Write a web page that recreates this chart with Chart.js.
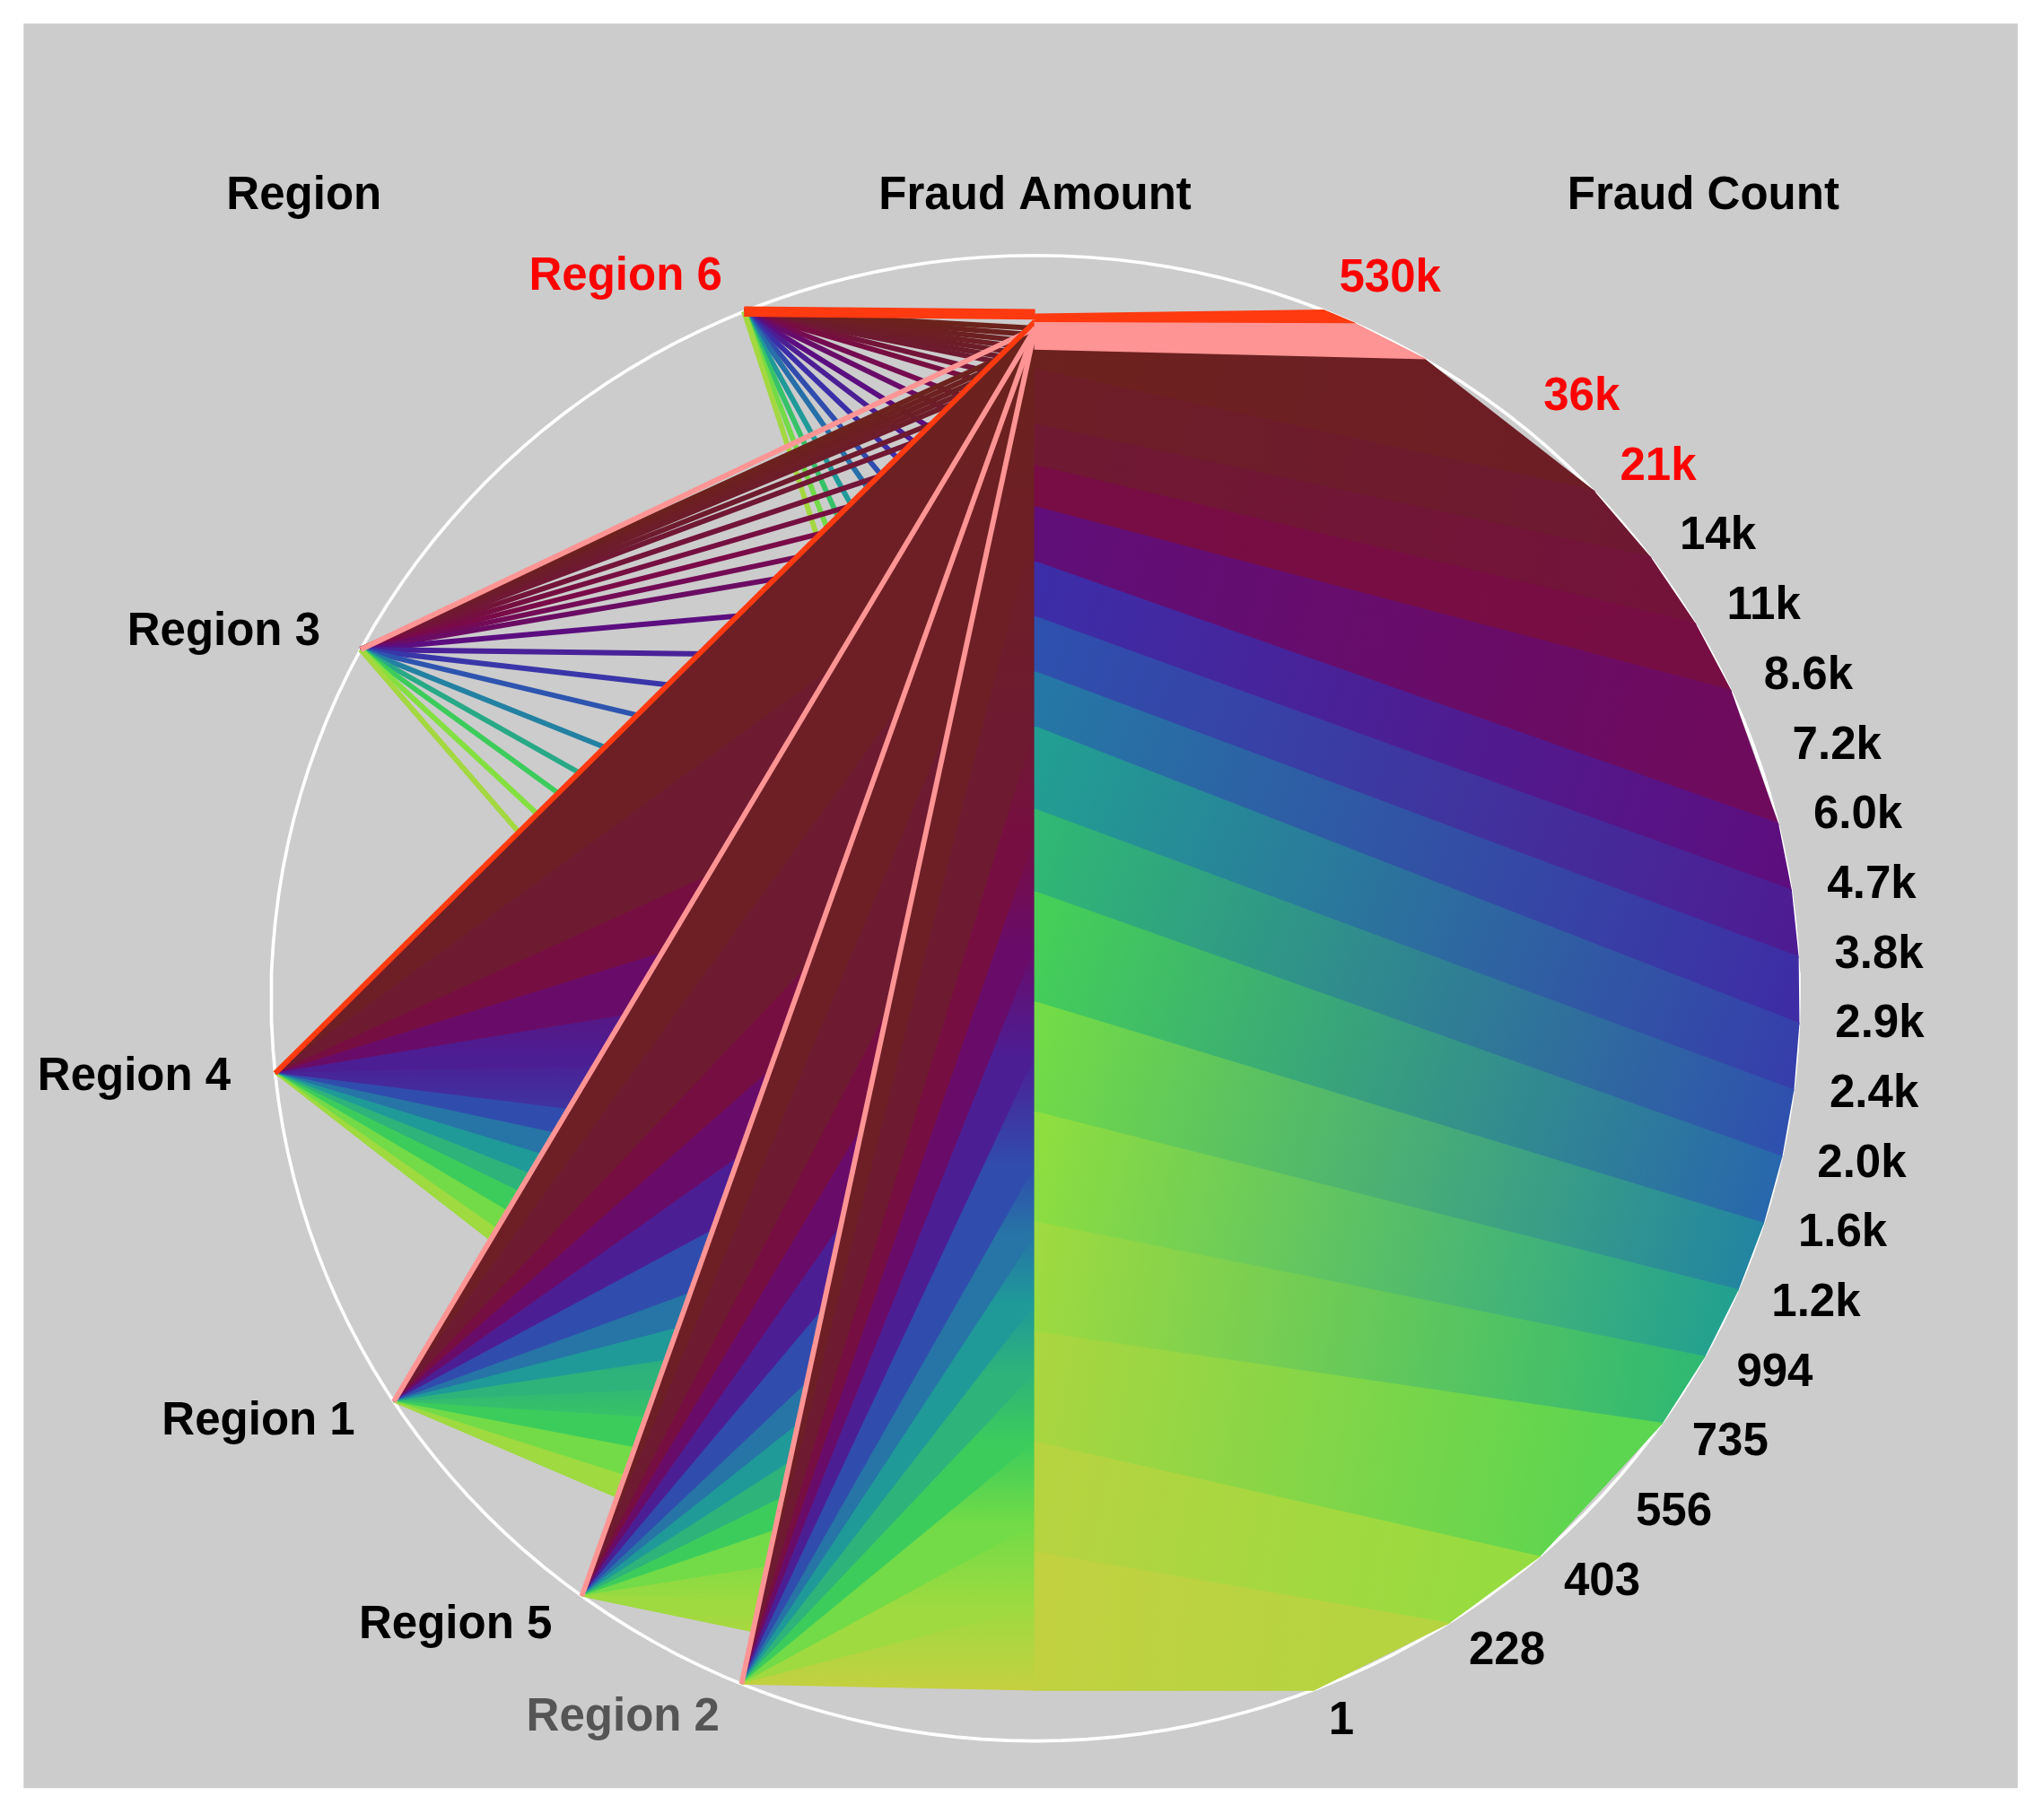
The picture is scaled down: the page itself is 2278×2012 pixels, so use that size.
<!DOCTYPE html>
<html><head><meta charset="utf-8">
<script src="https://cdn.jsdelivr.net/npm/chart.js@4.4.1/dist/chart.umd.min.js"></script>
<style>html,body{margin:0;padding:0;background:#fff;overflow:hidden}canvas{display:block}</style>
</head><body>
<canvas id="c" width="2278" height="2012"></canvas>
<script>
// ---------- DATA ----------
const axisTitles = ['Region', 'Fraud Amount', 'Fraud Count'];
const regionNames = ['Region 6', 'Region 3', 'Region 4', 'Region 1', 'Region 5', 'Region 2'];
const countTicks = [530000, 36000, 21000, 14000, 11000, 8600, 7200, 6000, 4700, 3800, 2900, 2400, 2000, 1600, 1200, 994, 735, 556, 403, 228, 1];
const countTickLabels = ['530k','36k','21k','14k','11k','8.6k','7.2k','6.0k','4.7k','3.8k','2.9k','2.4k','2.0k','1.6k','1.2k','994','735','556','403','228','1'];
const highlightedTicks = ['530k', '36k', '21k'];
const selectedRegion = 'Region 6';
const dimRegion = 'Region 2';

// sparse line records (amount percentile, colour rank) for Region 6 and Region 3
const r6Amount = [1, 1.5, 2, 2.5, 3, 3.5, 4, 5, 6, 8, 10, 13, 16, 20, 25, 30, 38, 46, 55, 65];
const r6Rank   = [0.02, 0.04, 0.06, 0.08, 0.1, 0.12, 0.15, 0.2, 0.25, 0.3, 0.35, 0.4, 0.45, 0.5, 0.58, 0.65, 0.72, 0.8, 0.88, 0.95];
const r3Amount = [2, 2.5, 3, 3.5, 4, 5, 6, 8, 10, 12, 14, 16, 20, 25, 30, 36, 44, 52, 60, 70, 81];
const r3Rank   = [0.03, 0.05, 0.07, 0.09, 0.11, 0.14, 0.17, 0.2, 0.24, 0.28, 0.31, 0.34, 0.4, 0.46, 0.52, 0.6, 0.68, 0.75, 0.82, 0.9, 0.95];

// dense fans (amount percentile stops, colour rank) for Regions 4, 1, 5, 2
const fanAmount4 = [0.5, 15, 30, 38, 46, 54, 62, 67, 72, 77, 82, 88, 94, 98];
const fanAmount1 = [0.8, 15, 30, 38, 46, 54, 62, 67, 72, 77, 82, 88, 94, 99];
const fanAmount5 = [1, 15, 30, 38, 46, 54, 62, 67, 72, 77, 82, 88, 94, 100];
const fanAmount2 = [1, 15, 30, 38, 46, 54, 62, 67, 72, 77, 82, 88, 94, 100];
const fanRank    = [0.02, 0.08, 0.15, 0.25, 0.35, 0.45, 0.58, 0.66, 0.72, 0.77, 0.82, 0.88, 0.94, 1];

// amount -> count links on the right
const rightAmount = [2.5, 4, 8, 11, 14, 18, 22, 26, 30, 36, 42, 50, 58, 66, 74, 82, 90, 100];
const rightCount  = [170000, 21000, 14000, 11000, 8600, 6000, 4700, 3800, 2900, 2400, 2000, 1600, 1200, 994, 735, 403, 228, 1];
const rightAxisRank = [0.02, 0.05, 0.12, 0.2, 0.32, 0.45, 0.55, 0.63, 0.7, 0.76, 0.8, 0.86, 0.9, 0.93, 0.95, 0.97, 0.99, 1];

// highlighted (selected) records: region, amount percentile, count
const hiRegion = ['Region 6', 'Region 3', 'Region 4', 'Region 1', 'Region 5', 'Region 2'];
const hiAmount = [0, 1, 0.5, 1, 1, 1];
const hiCount  = [530000, 36000, 36000, 21000, 21000, 21000];

// ---------- LAYOUT (not data) ----------
const K = 2278 / 1560;
const CX = 790, CY = 762, RX = 583, RY = 567;
const regionAngle = {'Region 6': 247.6, 'Region 3': 208, 'Region 4': 174.2, 'Region 1': 147.1, 'Region 5': 126.4, 'Region 2': 112.6};
const AX = 790, A_TOP = 240, A_BOT = 1290, C_TOP = 237, C_BOT = 1290;
const RED = '#ff3a10', PINK = '#ff9494';

const cmap = [[0,'#6b2418'],[0.15,'#6e1a30'],[0.28,'#7a0a48'],[0.4,'#5c0e80'],[0.5,'#3c2ea8'],[0.62,'#2a5cb0'],[0.72,'#1f9a98'],[0.82,'#3ccc5c'],[0.9,'#84e040'],[1,'#c4d040']];
function hex(h){return [parseInt(h.substr(1,2),16),parseInt(h.substr(3,2),16),parseInt(h.substr(5,2),16)];}
function col(t){t=Math.max(0,Math.min(1,t));for(let i=0;i<cmap.length-1;i++){const [a,ca]=cmap[i],[b,cb]=cmap[i+1];if(t<=b){const f=(t-a)/(b-a),A=hex(ca),B=hex(cb);return 'rgb('+A.map((v,j)=>Math.round(v+(B[j]-v)*f)).join(',')+')';}}return cmap[cmap.length-1][1];}

function ell(deg){const r=deg*Math.PI/180;return {x:CX+RX*Math.cos(r),y:CY+RY*Math.sin(r)};}
function regPt(name){return ell(regionAngle[name]);}
function amtPt(p){return {x:AX,y:A_TOP+p/100*(A_BOT-A_TOP)};}
const TOTAL_SLOTS = countTicks.length - 1 + 0.7;
function tickSlot(i){return i===0?0:i+0.7;}
function countSlot(v){
  for(let i=0;i<countTicks.length-1;i++){
    const a=countTicks[i],b=countTicks[i+1];
    if(v<=a && v>=b){const f=(Math.log(a)-Math.log(v))/(Math.log(a)-Math.log(b));return tickSlot(i)+f*(tickSlot(i+1)-tickSlot(i));}
  }
  return v>countTicks[0]?0:TOTAL_SLOTS;
}
function slotPt(s){const y=C_TOP+s/TOTAL_SLOTS*(C_BOT-C_TOP);const d=(y-CY)/RY;return {x:CX+RX*Math.sqrt(Math.max(0,1-d*d)),y:y};}
function cntPt(v){return slotPt(countSlot(v));}
function cntRank(v){return countSlot(v)/TOTAL_SLOTS;}

// ---------- DATASETS ----------
const ds = [];
function gradFill(p1,p2,c1,c2){
  return function(ctx){
    const ch=ctx.chart; if(!ch.chartArea) return c1;
    const xs=ch.scales.x, ys=ch.scales.y;
    const g=ch.ctx.createLinearGradient(xs.getPixelForValue(p1.x),ys.getPixelForValue(p1.y),xs.getPixelForValue(p2.x),ys.getPixelForValue(p2.y));
    g.addColorStop(0,c1);g.addColorStop(1,c2);return g;
  };
}
const circ=[];for(let a=0;a<=360;a+=2)circ.push(ell(a));
ds.push({data:circ,borderColor:'#ffffff',borderWidth:2.5*K,fill:false});
function sparse(name,amts,ranks,w){
  const R=regPt(name);
  amts.forEach((a,i)=>ds.push({data:[R,amtPt(a)],borderColor:col(ranks[i]),borderWidth:w*K,fill:false}));
}
sparse('Region 6',r6Amount,r6Rank,4);
sparse('Region 3',r3Amount,r3Rank,4);
function fan(name,amts,ranks){
  const R=regPt(name);
  for(let k=0;k<amts.length-1;k++){
    const A=amtPt(amts[k]),B=amtPt(amts[k+1]);
    const g=gradFill(A,B,col(ranks[k]),col(ranks[k+1]));
    ds.push({data:[R,A,B,R],borderColor:g,backgroundColor:g,borderWidth:1.5,fill:'shape'});
  }
}
fan('Region 4',fanAmount4,fanRank);
fan('Region 1',fanAmount1,fanRank);
fan('Region 5',fanAmount5,fanRank);
fan('Region 2',fanAmount2,fanRank);
for(let k=0;k<rightAmount.length-1;k++){
  const A=amtPt(rightAmount[k]),B=amtPt(rightAmount[k+1]),C=cntPt(rightCount[k]),D=cntPt(rightCount[k+1]);
  const m1={x:AX,y:(A.y+B.y)/2}, m2={x:(C.x+D.x)/2,y:(C.y+D.y)/2};
  const g=gradFill(m1,m2,col((rightAxisRank[k]+rightAxisRank[k+1])/2),col((cntRank(rightCount[k])+cntRank(rightCount[k+1]))/2));
  ds.push({data:[A,C,D,B,A],borderColor:g,backgroundColor:g,borderWidth:2,fill:'shape'});
}
hiRegion.forEach((name,i)=>{
  const R=regPt(name),A=amtPt(hiAmount[i]);
  const c=(hiCount[i]===530000||name==='Region 4')?RED:PINK;
  ds.push({data:[R,A],borderColor:c,borderWidth:(i===0?8:4)*K,fill:false});
});
// selected records on the right (top wedge)
ds.push({data:[amtPt(0.5),cntPt(400000),cntPt(170000),amtPt(2.5),amtPt(0.5)],backgroundColor:PINK,borderColor:PINK,borderWidth:2,fill:'shape'});
ds.push({data:[amtPt(0),cntPt(530000),cntPt(400000),amtPt(0.5),amtPt(0)],backgroundColor:RED,borderColor:RED,borderWidth:2,fill:'shape'});

const N=ds.length;
ds.forEach((d,i)=>{d.order=N-i;d.showLine=true;d.pointRadius=0;d.tension=0;d.borderJoinStyle='miter';});

// ---------- PLUGINS ----------
const bg={id:'bg',beforeDraw(ch){
  const c=ch.ctx,xs=ch.scales.x,ys=ch.scales.y;
  c.save();c.fillStyle='#fff';c.fillRect(0,0,ch.width,ch.height);
  const x1=xs.getPixelForValue(18),x2=xs.getPixelForValue(1540),y1=ys.getPixelForValue(18),y2=ys.getPixelForValue(1365);
  c.fillStyle='#cccccc';c.fillRect(x1,y1,x2-x1,y2-y1);c.restore();
}};
const labels={id:'labels',afterDraw(ch){
  const c=ch.ctx,xs=ch.scales.x,ys=ch.scales.y;
  const px=p=>({x:xs.getPixelForValue(p.x),y:ys.getPixelForValue(p.y)});
  c.save();
  c.font='bold '+Math.round(35*K)+'px "Liberation Sans", Arial, sans-serif';
  c.textBaseline='middle';
  c.fillStyle='#000';c.textAlign='center';
  [232,790,1300].forEach((x,i)=>{const p=px({x:x,y:150});c.fillText(axisTitles[i],p.x,p.y);});
  c.textAlign='right';
  regionNames.forEach(n=>{
    const r=regionAngle[n]*Math.PI/180,P=regPt(n);
    const p=px({x:P.x+Math.cos(r)*28-6,y:P.y+Math.sin(r)*28});
    c.fillStyle=n===selectedRegion?'#ff0000':(n===dimRegion?'#555555':'#000000');
    c.fillText(n,p.x,p.y);
  });
  c.textAlign='left';
  countTicks.forEach((v,i)=>{
    const P=slotPt(tickSlot(i));
    let ux=(P.x-CX)/RX,uy=(P.y-CY)/RY;const l=Math.hypot(ux,uy);ux/=l;uy/=l;
    const p=px({x:P.x+ux*26+2,y:P.y+uy*26});
    c.fillStyle=highlightedTicks.includes(countTickLabels[i])?'#ff0000':'#000';
    c.fillText(countTickLabels[i],p.x,p.y);
  });
  c.restore();
}};

new Chart(document.getElementById('c'),{
  type:'scatter',
  data:{datasets:ds},
  options:{
    responsive:false,animation:false,devicePixelRatio:1,
    layout:{padding:0},
    plugins:{legend:{display:false},tooltip:{enabled:false},filler:{propagate:false}},
    scales:{
      x:{type:'linear',min:0,max:1560,display:false},
      y:{type:'linear',min:0,max:2012/K,reverse:true,display:false}
    }
  },
  plugins:[bg,labels]
});
</script>
</body></html>
